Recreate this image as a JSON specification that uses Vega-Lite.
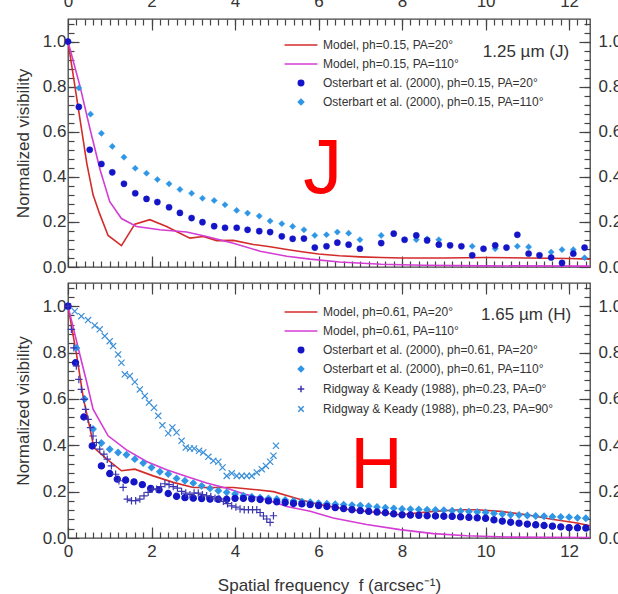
{
  "$schema": "https://vega.github.io/schema/vega-lite/v6.json",
  "autosize": {"type": "none"},
  "padding": {"left": 68, "top": 19, "right": 550, "bottom": 575},
  "background": "white",
  "config": {
    "font": "Liberation Sans",
    "view": {"stroke": "#444", "strokeWidth": 1.3},
    "axis": {"grid": false, "domain": false, "tickColor": "#444", "tickWidth": 1.2, "labelColor": "#333", "labelFontSize": 17, "titleColor": "#333", "titleFontSize": 17, "titleFontWeight": "normal", "labelFlush": false, "labelOverlap": false},
    "legend": {"orient": "none", "labelFontSize": 12, "labelColor": "#333", "labelLimit": 400, "symbolStrokeWidth": 1.5, "symbolSize": 30, "rowPadding": 7, "labelOffset": 16, "title": null, "padding": 0}
  },
  "datasets": {
    "jModel": [
      {"f": 0, "v": 1.0, "s": "Model, ph=0.15, PA=20°"}, {"f": 0.15, "v": 0.82, "s": "Model, ph=0.15, PA=20°"}, {"f": 0.3, "v": 0.64, "s": "Model, ph=0.15, PA=20°"}, {"f": 0.45, "v": 0.46, "s": "Model, ph=0.15, PA=20°"}, {"f": 0.6, "v": 0.32, "s": "Model, ph=0.15, PA=20°"}, {"f": 0.75, "v": 0.24, "s": "Model, ph=0.15, PA=20°"}, {"f": 0.96, "v": 0.14, "s": "Model, ph=0.15, PA=20°"}, {"f": 1.28, "v": 0.095, "s": "Model, ph=0.15, PA=20°"}, {"f": 1.6, "v": 0.19, "s": "Model, ph=0.15, PA=20°"}, {"f": 1.96, "v": 0.21, "s": "Model, ph=0.15, PA=20°"}, {"f": 2.36, "v": 0.18, "s": "Model, ph=0.15, PA=20°"}, {"f": 2.68, "v": 0.15, "s": "Model, ph=0.15, PA=20°"}, {"f": 2.92, "v": 0.128, "s": "Model, ph=0.15, PA=20°"}, {"f": 3.24, "v": 0.135, "s": "Model, ph=0.15, PA=20°"}, {"f": 3.56, "v": 0.117, "s": "Model, ph=0.15, PA=20°"}, {"f": 3.96, "v": 0.118, "s": "Model, ph=0.15, PA=20°"}, {"f": 4.44, "v": 0.1, "s": "Model, ph=0.15, PA=20°"}, {"f": 4.84, "v": 0.09, "s": "Model, ph=0.15, PA=20°"}, {"f": 5.24, "v": 0.078, "s": "Model, ph=0.15, PA=20°"}, {"f": 5.6, "v": 0.068, "s": "Model, ph=0.15, PA=20°"}, {"f": 6.0, "v": 0.058, "s": "Model, ph=0.15, PA=20°"}, {"f": 6.5, "v": 0.05, "s": "Model, ph=0.15, PA=20°"}, {"f": 7.0, "v": 0.045, "s": "Model, ph=0.15, PA=20°"}, {"f": 7.5, "v": 0.042, "s": "Model, ph=0.15, PA=20°"}, {"f": 8.0, "v": 0.04, "s": "Model, ph=0.15, PA=20°"}, {"f": 9.0, "v": 0.04, "s": "Model, ph=0.15, PA=20°"}, {"f": 10.0, "v": 0.042, "s": "Model, ph=0.15, PA=20°"}, {"f": 11.0, "v": 0.04, "s": "Model, ph=0.15, PA=20°"}, {"f": 12.0, "v": 0.038, "s": "Model, ph=0.15, PA=20°"}, {"f": 12.5, "v": 0.035, "s": "Model, ph=0.15, PA=20°"},
      {"f": 0, "v": 1.0, "s": "Model, ph=0.15, PA=110°"}, {"f": 0.29, "v": 0.8, "s": "Model, ph=0.15, PA=110°"}, {"f": 0.53, "v": 0.61, "s": "Model, ph=0.15, PA=110°"}, {"f": 0.77, "v": 0.43, "s": "Model, ph=0.15, PA=110°"}, {"f": 1.0, "v": 0.29, "s": "Model, ph=0.15, PA=110°"}, {"f": 1.28, "v": 0.215, "s": "Model, ph=0.15, PA=110°"}, {"f": 1.64, "v": 0.18, "s": "Model, ph=0.15, PA=110°"}, {"f": 2.2, "v": 0.165, "s": "Model, ph=0.15, PA=110°"}, {"f": 2.84, "v": 0.155, "s": "Model, ph=0.15, PA=110°"}, {"f": 3.32, "v": 0.135, "s": "Model, ph=0.15, PA=110°"}, {"f": 3.96, "v": 0.105, "s": "Model, ph=0.15, PA=110°"}, {"f": 4.6, "v": 0.07, "s": "Model, ph=0.15, PA=110°"}, {"f": 5.24, "v": 0.048, "s": "Model, ph=0.15, PA=110°"}, {"f": 5.8, "v": 0.035, "s": "Model, ph=0.15, PA=110°"}, {"f": 6.5, "v": 0.022, "s": "Model, ph=0.15, PA=110°"}, {"f": 7.5, "v": 0.012, "s": "Model, ph=0.15, PA=110°"}, {"f": 8.5, "v": 0.008, "s": "Model, ph=0.15, PA=110°"}, {"f": 10.0, "v": 0.005, "s": "Model, ph=0.15, PA=110°"}, {"f": 12.5, "v": 0.004, "s": "Model, ph=0.15, PA=110°"}
    ],
    "jObs": [
      {"f": 0, "v": 1.0, "s": "Osterbart et al. (2000), ph=0.15, PA=110°"}, {"f": 0.26, "v": 0.794, "s": "Osterbart et al. (2000), ph=0.15, PA=110°"}, {"f": 0.54, "v": 0.678, "s": "Osterbart et al. (2000), ph=0.15, PA=110°"}, {"f": 0.8, "v": 0.593, "s": "Osterbart et al. (2000), ph=0.15, PA=110°"}, {"f": 1.06, "v": 0.535, "s": "Osterbart et al. (2000), ph=0.15, PA=110°"}, {"f": 1.34, "v": 0.487, "s": "Osterbart et al. (2000), ph=0.15, PA=110°"}, {"f": 1.61, "v": 0.438, "s": "Osterbart et al. (2000), ph=0.15, PA=110°"}, {"f": 1.88, "v": 0.416, "s": "Osterbart et al. (2000), ph=0.15, PA=110°"}, {"f": 2.14, "v": 0.388, "s": "Osterbart et al. (2000), ph=0.15, PA=110°"}, {"f": 2.42, "v": 0.369, "s": "Osterbart et al. (2000), ph=0.15, PA=110°"}, {"f": 2.68, "v": 0.344, "s": "Osterbart et al. (2000), ph=0.15, PA=110°"}, {"f": 2.96, "v": 0.327, "s": "Osterbart et al. (2000), ph=0.15, PA=110°"}, {"f": 3.22, "v": 0.305, "s": "Osterbart et al. (2000), ph=0.15, PA=110°"}, {"f": 3.5, "v": 0.295, "s": "Osterbart et al. (2000), ph=0.15, PA=110°"}, {"f": 3.76, "v": 0.276, "s": "Osterbart et al. (2000), ph=0.15, PA=110°"}, {"f": 4.04, "v": 0.251, "s": "Osterbart et al. (2000), ph=0.15, PA=110°"}, {"f": 4.3, "v": 0.239, "s": "Osterbart et al. (2000), ph=0.15, PA=110°"}, {"f": 4.58, "v": 0.226, "s": "Osterbart et al. (2000), ph=0.15, PA=110°"}, {"f": 4.84, "v": 0.204, "s": "Osterbart et al. (2000), ph=0.15, PA=110°"}, {"f": 5.12, "v": 0.192, "s": "Osterbart et al. (2000), ph=0.15, PA=110°"}, {"f": 5.38, "v": 0.18, "s": "Osterbart et al. (2000), ph=0.15, PA=110°"}, {"f": 5.65, "v": 0.165, "s": "Osterbart et al. (2000), ph=0.15, PA=110°"}, {"f": 5.91, "v": 0.14, "s": "Osterbart et al. (2000), ph=0.15, PA=110°"}, {"f": 6.19, "v": 0.143, "s": "Osterbart et al. (2000), ph=0.15, PA=110°"}, {"f": 6.45, "v": 0.155, "s": "Osterbart et al. (2000), ph=0.15, PA=110°"}, {"f": 6.72, "v": 0.15, "s": "Osterbart et al. (2000), ph=0.15, PA=110°"}, {"f": 6.99, "v": 0.121, "s": "Osterbart et al. (2000), ph=0.15, PA=110°"}, {"f": 7.5, "v": 0.14, "s": "Osterbart et al. (2000), ph=0.15, PA=110°"}, {"f": 8.34, "v": 0.121, "s": "Osterbart et al. (2000), ph=0.15, PA=110°"}, {"f": 8.6, "v": 0.125, "s": "Osterbart et al. (2000), ph=0.15, PA=110°"}, {"f": 8.88, "v": 0.121, "s": "Osterbart et al. (2000), ph=0.15, PA=110°"}, {"f": 9.68, "v": 0.092, "s": "Osterbart et al. (2000), ph=0.15, PA=110°"}, {"f": 10.23, "v": 0.081, "s": "Osterbart et al. (2000), ph=0.15, PA=110°"}, {"f": 10.76, "v": 0.092, "s": "Osterbart et al. (2000), ph=0.15, PA=110°"}, {"f": 11.03, "v": 0.089, "s": "Osterbart et al. (2000), ph=0.15, PA=110°"}, {"f": 11.57, "v": 0.066, "s": "Osterbart et al. (2000), ph=0.15, PA=110°"}, {"f": 11.83, "v": 0.077, "s": "Osterbart et al. (2000), ph=0.15, PA=110°"}, {"f": 12.1, "v": 0.077, "s": "Osterbart et al. (2000), ph=0.15, PA=110°"}, {"f": 12.37, "v": 0.041, "s": "Osterbart et al. (2000), ph=0.15, PA=110°"},
      {"f": 0, "v": 1.0, "s": "Osterbart et al. (2000), ph=0.15, PA=20°"}, {"f": 0.26, "v": 0.71, "s": "Osterbart et al. (2000), ph=0.15, PA=20°"}, {"f": 0.52, "v": 0.52, "s": "Osterbart et al. (2000), ph=0.15, PA=20°"}, {"f": 0.8, "v": 0.457, "s": "Osterbart et al. (2000), ph=0.15, PA=20°"}, {"f": 1.06, "v": 0.42, "s": "Osterbart et al. (2000), ph=0.15, PA=20°"}, {"f": 1.34, "v": 0.369, "s": "Osterbart et al. (2000), ph=0.15, PA=20°"}, {"f": 1.61, "v": 0.327, "s": "Osterbart et al. (2000), ph=0.15, PA=20°"}, {"f": 1.88, "v": 0.302, "s": "Osterbart et al. (2000), ph=0.15, PA=20°"}, {"f": 2.14, "v": 0.288, "s": "Osterbart et al. (2000), ph=0.15, PA=20°"}, {"f": 2.42, "v": 0.265, "s": "Osterbart et al. (2000), ph=0.15, PA=20°"}, {"f": 2.68, "v": 0.24, "s": "Osterbart et al. (2000), ph=0.15, PA=20°"}, {"f": 2.96, "v": 0.217, "s": "Osterbart et al. (2000), ph=0.15, PA=20°"}, {"f": 3.22, "v": 0.199, "s": "Osterbart et al. (2000), ph=0.15, PA=20°"}, {"f": 3.5, "v": 0.181, "s": "Osterbart et al. (2000), ph=0.15, PA=20°"}, {"f": 3.76, "v": 0.174, "s": "Osterbart et al. (2000), ph=0.15, PA=20°"}, {"f": 4.04, "v": 0.174, "s": "Osterbart et al. (2000), ph=0.15, PA=20°"}, {"f": 4.3, "v": 0.165, "s": "Osterbart et al. (2000), ph=0.15, PA=20°"}, {"f": 4.58, "v": 0.159, "s": "Osterbart et al. (2000), ph=0.15, PA=20°"}, {"f": 4.84, "v": 0.155, "s": "Osterbart et al. (2000), ph=0.15, PA=20°"}, {"f": 5.12, "v": 0.136, "s": "Osterbart et al. (2000), ph=0.15, PA=20°"}, {"f": 5.38, "v": 0.125, "s": "Osterbart et al. (2000), ph=0.15, PA=20°"}, {"f": 5.65, "v": 0.126, "s": "Osterbart et al. (2000), ph=0.15, PA=20°"}, {"f": 5.91, "v": 0.086, "s": "Osterbart et al. (2000), ph=0.15, PA=20°"}, {"f": 6.19, "v": 0.092, "s": "Osterbart et al. (2000), ph=0.15, PA=20°"}, {"f": 6.45, "v": 0.108, "s": "Osterbart et al. (2000), ph=0.15, PA=20°"}, {"f": 6.72, "v": 0.099, "s": "Osterbart et al. (2000), ph=0.15, PA=20°"}, {"f": 6.99, "v": 0.081, "s": "Osterbart et al. (2000), ph=0.15, PA=20°"}, {"f": 7.5, "v": 0.106, "s": "Osterbart et al. (2000), ph=0.15, PA=20°"}, {"f": 7.8, "v": 0.148, "s": "Osterbart et al. (2000), ph=0.15, PA=20°"}, {"f": 8.06, "v": 0.121, "s": "Osterbart et al. (2000), ph=0.15, PA=20°"}, {"f": 8.34, "v": 0.14, "s": "Osterbart et al. (2000), ph=0.15, PA=20°"}, {"f": 8.6, "v": 0.118, "s": "Osterbart et al. (2000), ph=0.15, PA=20°"}, {"f": 8.88, "v": 0.099, "s": "Osterbart et al. (2000), ph=0.15, PA=20°"}, {"f": 9.15, "v": 0.096, "s": "Osterbart et al. (2000), ph=0.15, PA=20°"}, {"f": 9.42, "v": 0.092, "s": "Osterbart et al. (2000), ph=0.15, PA=20°"}, {"f": 9.68, "v": 0.052, "s": "Osterbart et al. (2000), ph=0.15, PA=20°"}, {"f": 9.95, "v": 0.081, "s": "Osterbart et al. (2000), ph=0.15, PA=20°"}, {"f": 10.23, "v": 0.096, "s": "Osterbart et al. (2000), ph=0.15, PA=20°"}, {"f": 10.5, "v": 0.086, "s": "Osterbart et al. (2000), ph=0.15, PA=20°"}, {"f": 10.76, "v": 0.143, "s": "Osterbart et al. (2000), ph=0.15, PA=20°"}, {"f": 11.03, "v": 0.059, "s": "Osterbart et al. (2000), ph=0.15, PA=20°"}, {"f": 11.29, "v": 0.052, "s": "Osterbart et al. (2000), ph=0.15, PA=20°"}, {"f": 11.57, "v": 0.042, "s": "Osterbart et al. (2000), ph=0.15, PA=20°"}, {"f": 11.83, "v": 0.018, "s": "Osterbart et al. (2000), ph=0.15, PA=20°"}, {"f": 12.1, "v": 0.059, "s": "Osterbart et al. (2000), ph=0.15, PA=20°"}, {"f": 12.37, "v": 0.086, "s": "Osterbart et al. (2000), ph=0.15, PA=20°"}
    ],
    "hModel": [
      {"f": 0, "v": 1.0, "s": "Model, ph=0.61, PA=20°"}, {"f": 0.21, "v": 0.786, "s": "Model, ph=0.61, PA=20°"}, {"f": 0.37, "v": 0.6, "s": "Model, ph=0.61, PA=20°"}, {"f": 0.53, "v": 0.47, "s": "Model, ph=0.61, PA=20°"}, {"f": 0.62, "v": 0.39, "s": "Model, ph=0.61, PA=20°"}, {"f": 0.93, "v": 0.34, "s": "Model, ph=0.61, PA=20°"}, {"f": 1.28, "v": 0.29, "s": "Model, ph=0.61, PA=20°"}, {"f": 1.6, "v": 0.297, "s": "Model, ph=0.61, PA=20°"}, {"f": 2.04, "v": 0.268, "s": "Model, ph=0.61, PA=20°"}, {"f": 2.52, "v": 0.24, "s": "Model, ph=0.61, PA=20°"}, {"f": 3.0, "v": 0.218, "s": "Model, ph=0.61, PA=20°"}, {"f": 3.48, "v": 0.218, "s": "Model, ph=0.61, PA=20°"}, {"f": 3.96, "v": 0.218, "s": "Model, ph=0.61, PA=20°"}, {"f": 4.52, "v": 0.208, "s": "Model, ph=0.61, PA=20°"}, {"f": 4.92, "v": 0.2, "s": "Model, ph=0.61, PA=20°"}, {"f": 5.4, "v": 0.175, "s": "Model, ph=0.61, PA=20°"}, {"f": 5.8, "v": 0.154, "s": "Model, ph=0.61, PA=20°"}, {"f": 6.03, "v": 0.144, "s": "Model, ph=0.61, PA=20°"}, {"f": 6.75, "v": 0.122, "s": "Model, ph=0.61, PA=20°"}, {"f": 7.95, "v": 0.1, "s": "Model, ph=0.61, PA=20°"}, {"f": 8.75, "v": 0.115, "s": "Model, ph=0.61, PA=20°"}, {"f": 9.39, "v": 0.122, "s": "Model, ph=0.61, PA=20°"}, {"f": 9.79, "v": 0.122, "s": "Model, ph=0.61, PA=20°"}, {"f": 10.35, "v": 0.115, "s": "Model, ph=0.61, PA=20°"}, {"f": 10.99, "v": 0.1, "s": "Model, ph=0.61, PA=20°"}, {"f": 11.55, "v": 0.082, "s": "Model, ph=0.61, PA=20°"}, {"f": 12.19, "v": 0.065, "s": "Model, ph=0.61, PA=20°"}, {"f": 12.5, "v": 0.053, "s": "Model, ph=0.61, PA=20°"},
      {"f": 0, "v": 1.0, "s": "Model, ph=0.61, PA=110°"}, {"f": 0.29, "v": 0.786, "s": "Model, ph=0.61, PA=110°"}, {"f": 0.45, "v": 0.671, "s": "Model, ph=0.61, PA=110°"}, {"f": 0.6, "v": 0.556, "s": "Model, ph=0.61, PA=110°"}, {"f": 0.96, "v": 0.441, "s": "Model, ph=0.61, PA=110°"}, {"f": 1.4, "v": 0.38, "s": "Model, ph=0.61, PA=110°"}, {"f": 1.88, "v": 0.33, "s": "Model, ph=0.61, PA=110°"}, {"f": 2.36, "v": 0.294, "s": "Model, ph=0.61, PA=110°"}, {"f": 2.84, "v": 0.265, "s": "Model, ph=0.61, PA=110°"}, {"f": 3.32, "v": 0.237, "s": "Model, ph=0.61, PA=110°"}, {"f": 3.8, "v": 0.215, "s": "Model, ph=0.61, PA=110°"}, {"f": 4.28, "v": 0.187, "s": "Model, ph=0.61, PA=110°"}, {"f": 4.76, "v": 0.165, "s": "Model, ph=0.61, PA=110°"}, {"f": 5.24, "v": 0.136, "s": "Model, ph=0.61, PA=110°"}, {"f": 5.8, "v": 0.115, "s": "Model, ph=0.61, PA=110°"}, {"f": 6.35, "v": 0.086, "s": "Model, ph=0.61, PA=110°"}, {"f": 7.15, "v": 0.058, "s": "Model, ph=0.61, PA=110°"}, {"f": 7.95, "v": 0.036, "s": "Model, ph=0.61, PA=110°"}, {"f": 8.75, "v": 0.019, "s": "Model, ph=0.61, PA=110°"}, {"f": 9.55, "v": 0.01, "s": "Model, ph=0.61, PA=110°"}, {"f": 10.5, "v": 0.004, "s": "Model, ph=0.61, PA=110°"}, {"f": 12.5, "v": 0.002, "s": "Model, ph=0.61, PA=110°"}
    ],
    "hObs": [
      {"f": 0, "v": 1.0, "s": "Ridgway & Keady (1988), ph=0.23, PA=90°"}, {"f": 0.16, "v": 0.978, "s": "Ridgway & Keady (1988), ph=0.23, PA=90°"}, {"f": 0.32, "v": 0.957, "s": "Ridgway & Keady (1988), ph=0.23, PA=90°"}, {"f": 0.48, "v": 0.94, "s": "Ridgway & Keady (1988), ph=0.23, PA=90°"}, {"f": 0.64, "v": 0.917, "s": "Ridgway & Keady (1988), ph=0.23, PA=90°"}, {"f": 0.76, "v": 0.9, "s": "Ridgway & Keady (1988), ph=0.23, PA=90°"}, {"f": 0.88, "v": 0.871, "s": "Ridgway & Keady (1988), ph=0.23, PA=90°"}, {"f": 1.0, "v": 0.849, "s": "Ridgway & Keady (1988), ph=0.23, PA=90°"}, {"f": 1.08, "v": 0.828, "s": "Ridgway & Keady (1988), ph=0.23, PA=90°"}, {"f": 1.2, "v": 0.792, "s": "Ridgway & Keady (1988), ph=0.23, PA=90°"}, {"f": 1.28, "v": 0.756, "s": "Ridgway & Keady (1988), ph=0.23, PA=90°"}, {"f": 1.36, "v": 0.706, "s": "Ridgway & Keady (1988), ph=0.23, PA=90°"}, {"f": 1.48, "v": 0.699, "s": "Ridgway & Keady (1988), ph=0.23, PA=90°"}, {"f": 1.6, "v": 0.673, "s": "Ridgway & Keady (1988), ph=0.23, PA=90°"}, {"f": 1.72, "v": 0.641, "s": "Ridgway & Keady (1988), ph=0.23, PA=90°"}, {"f": 1.84, "v": 0.613, "s": "Ridgway & Keady (1988), ph=0.23, PA=90°"}, {"f": 1.94, "v": 0.584, "s": "Ridgway & Keady (1988), ph=0.23, PA=90°"}, {"f": 2.06, "v": 0.562, "s": "Ridgway & Keady (1988), ph=0.23, PA=90°"}, {"f": 2.16, "v": 0.527, "s": "Ridgway & Keady (1988), ph=0.23, PA=90°"}, {"f": 2.26, "v": 0.486, "s": "Ridgway & Keady (1988), ph=0.23, PA=90°"}, {"f": 2.4, "v": 0.452, "s": "Ridgway & Keady (1988), ph=0.23, PA=90°"}, {"f": 2.5, "v": 0.477, "s": "Ridgway & Keady (1988), ph=0.23, PA=90°"}, {"f": 2.6, "v": 0.455, "s": "Ridgway & Keady (1988), ph=0.23, PA=90°"}, {"f": 2.72, "v": 0.419, "s": "Ridgway & Keady (1988), ph=0.23, PA=90°"}, {"f": 2.82, "v": 0.39, "s": "Ridgway & Keady (1988), ph=0.23, PA=90°"}, {"f": 2.92, "v": 0.386, "s": "Ridgway & Keady (1988), ph=0.23, PA=90°"}, {"f": 3.02, "v": 0.386, "s": "Ridgway & Keady (1988), ph=0.23, PA=90°"}, {"f": 3.14, "v": 0.376, "s": "Ridgway & Keady (1988), ph=0.23, PA=90°"}, {"f": 3.24, "v": 0.369, "s": "Ridgway & Keady (1988), ph=0.23, PA=90°"}, {"f": 3.36, "v": 0.35, "s": "Ridgway & Keady (1988), ph=0.23, PA=90°"}, {"f": 3.48, "v": 0.333, "s": "Ridgway & Keady (1988), ph=0.23, PA=90°"}, {"f": 3.6, "v": 0.329, "s": "Ridgway & Keady (1988), ph=0.23, PA=90°"}, {"f": 3.7, "v": 0.304, "s": "Ridgway & Keady (1988), ph=0.23, PA=90°"}, {"f": 3.8, "v": 0.268, "s": "Ridgway & Keady (1988), ph=0.23, PA=90°"}, {"f": 3.92, "v": 0.279, "s": "Ridgway & Keady (1988), ph=0.23, PA=90°"}, {"f": 4.04, "v": 0.268, "s": "Ridgway & Keady (1988), ph=0.23, PA=90°"}, {"f": 4.16, "v": 0.268, "s": "Ridgway & Keady (1988), ph=0.23, PA=90°"}, {"f": 4.28, "v": 0.268, "s": "Ridgway & Keady (1988), ph=0.23, PA=90°"}, {"f": 4.4, "v": 0.268, "s": "Ridgway & Keady (1988), ph=0.23, PA=90°"}, {"f": 4.52, "v": 0.283, "s": "Ridgway & Keady (1988), ph=0.23, PA=90°"}, {"f": 4.64, "v": 0.297, "s": "Ridgway & Keady (1988), ph=0.23, PA=90°"}, {"f": 4.74, "v": 0.311, "s": "Ridgway & Keady (1988), ph=0.23, PA=90°"}, {"f": 4.84, "v": 0.329, "s": "Ridgway & Keady (1988), ph=0.23, PA=90°"}, {"f": 4.92, "v": 0.355, "s": "Ridgway & Keady (1988), ph=0.23, PA=90°"}, {"f": 4.98, "v": 0.398, "s": "Ridgway & Keady (1988), ph=0.23, PA=90°"},
      {"f": 0, "v": 1.0, "s": "Osterbart et al. (2000), ph=0.61, PA=110°"}, {"f": 0.2, "v": 0.82, "s": "Osterbart et al. (2000), ph=0.61, PA=110°"}, {"f": 0.4, "v": 0.6, "s": "Osterbart et al. (2000), ph=0.61, PA=110°"}, {"f": 0.6, "v": 0.47, "s": "Osterbart et al. (2000), ph=0.61, PA=110°"}, {"f": 0.8, "v": 0.41, "s": "Osterbart et al. (2000), ph=0.61, PA=110°"}, {"f": 1.0, "v": 0.383, "s": "Osterbart et al. (2000), ph=0.61, PA=110°"}, {"f": 1.2, "v": 0.369, "s": "Osterbart et al. (2000), ph=0.61, PA=110°"}, {"f": 1.4, "v": 0.359, "s": "Osterbart et al. (2000), ph=0.61, PA=110°"}, {"f": 1.6, "v": 0.34, "s": "Osterbart et al. (2000), ph=0.61, PA=110°"}, {"f": 1.8, "v": 0.323, "s": "Osterbart et al. (2000), ph=0.61, PA=110°"}, {"f": 2.0, "v": 0.304, "s": "Osterbart et al. (2000), ph=0.61, PA=110°"}, {"f": 2.2, "v": 0.286, "s": "Osterbart et al. (2000), ph=0.61, PA=110°"}, {"f": 2.4, "v": 0.276, "s": "Osterbart et al. (2000), ph=0.61, PA=110°"}, {"f": 2.6, "v": 0.257, "s": "Osterbart et al. (2000), ph=0.61, PA=110°"}, {"f": 2.8, "v": 0.247, "s": "Osterbart et al. (2000), ph=0.61, PA=110°"}, {"f": 3.0, "v": 0.237, "s": "Osterbart et al. (2000), ph=0.61, PA=110°"}, {"f": 3.2, "v": 0.225, "s": "Osterbart et al. (2000), ph=0.61, PA=110°"}, {"f": 3.4, "v": 0.214, "s": "Osterbart et al. (2000), ph=0.61, PA=110°"}, {"f": 3.6, "v": 0.204, "s": "Osterbart et al. (2000), ph=0.61, PA=110°"}, {"f": 3.8, "v": 0.197, "s": "Osterbart et al. (2000), ph=0.61, PA=110°"}, {"f": 4.0, "v": 0.19, "s": "Osterbart et al. (2000), ph=0.61, PA=110°"}, {"f": 4.2, "v": 0.183, "s": "Osterbart et al. (2000), ph=0.61, PA=110°"}, {"f": 4.4, "v": 0.178, "s": "Osterbart et al. (2000), ph=0.61, PA=110°"}, {"f": 4.6, "v": 0.174, "s": "Osterbart et al. (2000), ph=0.61, PA=110°"}, {"f": 4.8, "v": 0.171, "s": "Osterbart et al. (2000), ph=0.61, PA=110°"}, {"f": 5.0, "v": 0.168, "s": "Osterbart et al. (2000), ph=0.61, PA=110°"}, {"f": 5.2, "v": 0.164, "s": "Osterbart et al. (2000), ph=0.61, PA=110°"}, {"f": 5.4, "v": 0.16, "s": "Osterbart et al. (2000), ph=0.61, PA=110°"}, {"f": 5.6, "v": 0.157, "s": "Osterbart et al. (2000), ph=0.61, PA=110°"}, {"f": 5.8, "v": 0.154, "s": "Osterbart et al. (2000), ph=0.61, PA=110°"}, {"f": 6.0, "v": 0.15, "s": "Osterbart et al. (2000), ph=0.61, PA=110°"}, {"f": 6.2, "v": 0.148, "s": "Osterbart et al. (2000), ph=0.61, PA=110°"}, {"f": 6.4, "v": 0.146, "s": "Osterbart et al. (2000), ph=0.61, PA=110°"}, {"f": 6.6, "v": 0.144, "s": "Osterbart et al. (2000), ph=0.61, PA=110°"}, {"f": 6.8, "v": 0.142, "s": "Osterbart et al. (2000), ph=0.61, PA=110°"}, {"f": 7.0, "v": 0.14, "s": "Osterbart et al. (2000), ph=0.61, PA=110°"}, {"f": 7.2, "v": 0.137, "s": "Osterbart et al. (2000), ph=0.61, PA=110°"}, {"f": 7.4, "v": 0.134, "s": "Osterbart et al. (2000), ph=0.61, PA=110°"}, {"f": 7.6, "v": 0.131, "s": "Osterbart et al. (2000), ph=0.61, PA=110°"}, {"f": 7.8, "v": 0.128, "s": "Osterbart et al. (2000), ph=0.61, PA=110°"}, {"f": 8.0, "v": 0.125, "s": "Osterbart et al. (2000), ph=0.61, PA=110°"}, {"f": 8.2, "v": 0.124, "s": "Osterbart et al. (2000), ph=0.61, PA=110°"}, {"f": 8.4, "v": 0.123, "s": "Osterbart et al. (2000), ph=0.61, PA=110°"}, {"f": 8.6, "v": 0.122, "s": "Osterbart et al. (2000), ph=0.61, PA=110°"}, {"f": 8.8, "v": 0.121, "s": "Osterbart et al. (2000), ph=0.61, PA=110°"}, {"f": 9.0, "v": 0.12, "s": "Osterbart et al. (2000), ph=0.61, PA=110°"}, {"f": 9.2, "v": 0.118, "s": "Osterbart et al. (2000), ph=0.61, PA=110°"}, {"f": 9.4, "v": 0.116, "s": "Osterbart et al. (2000), ph=0.61, PA=110°"}, {"f": 9.6, "v": 0.114, "s": "Osterbart et al. (2000), ph=0.61, PA=110°"}, {"f": 9.8, "v": 0.112, "s": "Osterbart et al. (2000), ph=0.61, PA=110°"}, {"f": 10.0, "v": 0.11, "s": "Osterbart et al. (2000), ph=0.61, PA=110°"}, {"f": 10.2, "v": 0.106, "s": "Osterbart et al. (2000), ph=0.61, PA=110°"}, {"f": 10.4, "v": 0.103, "s": "Osterbart et al. (2000), ph=0.61, PA=110°"}, {"f": 10.6, "v": 0.1, "s": "Osterbart et al. (2000), ph=0.61, PA=110°"}, {"f": 10.8, "v": 0.099, "s": "Osterbart et al. (2000), ph=0.61, PA=110°"}, {"f": 11.0, "v": 0.097, "s": "Osterbart et al. (2000), ph=0.61, PA=110°"}, {"f": 11.2, "v": 0.095, "s": "Osterbart et al. (2000), ph=0.61, PA=110°"}, {"f": 11.4, "v": 0.094, "s": "Osterbart et al. (2000), ph=0.61, PA=110°"}, {"f": 11.6, "v": 0.092, "s": "Osterbart et al. (2000), ph=0.61, PA=110°"}, {"f": 11.8, "v": 0.091, "s": "Osterbart et al. (2000), ph=0.61, PA=110°"}, {"f": 12.0, "v": 0.09, "s": "Osterbart et al. (2000), ph=0.61, PA=110°"}, {"f": 12.2, "v": 0.087, "s": "Osterbart et al. (2000), ph=0.61, PA=110°"}, {"f": 12.4, "v": 0.085, "s": "Osterbart et al. (2000), ph=0.61, PA=110°"},
      {"f": 0, "v": 1.0, "s": "Osterbart et al. (2000), ph=0.61, PA=20°"}, {"f": 0.18, "v": 0.756, "s": "Osterbart et al. (2000), ph=0.61, PA=20°"}, {"f": 0.38, "v": 0.522, "s": "Osterbart et al. (2000), ph=0.61, PA=20°"}, {"f": 0.58, "v": 0.397, "s": "Osterbart et al. (2000), ph=0.61, PA=20°"}, {"f": 0.8, "v": 0.311, "s": "Osterbart et al. (2000), ph=0.61, PA=20°"}, {"f": 1.0, "v": 0.278, "s": "Osterbart et al. (2000), ph=0.61, PA=20°"}, {"f": 1.18, "v": 0.254, "s": "Osterbart et al. (2000), ph=0.61, PA=20°"}, {"f": 1.38, "v": 0.25, "s": "Osterbart et al. (2000), ph=0.61, PA=20°"}, {"f": 1.58, "v": 0.242, "s": "Osterbart et al. (2000), ph=0.61, PA=20°"}, {"f": 1.78, "v": 0.23, "s": "Osterbart et al. (2000), ph=0.61, PA=20°"}, {"f": 1.98, "v": 0.214, "s": "Osterbart et al. (2000), ph=0.61, PA=20°"}, {"f": 2.18, "v": 0.208, "s": "Osterbart et al. (2000), ph=0.61, PA=20°"}, {"f": 2.4, "v": 0.192, "s": "Osterbart et al. (2000), ph=0.61, PA=20°"}, {"f": 2.6, "v": 0.18, "s": "Osterbart et al. (2000), ph=0.61, PA=20°"}, {"f": 2.8, "v": 0.174, "s": "Osterbart et al. (2000), ph=0.61, PA=20°"}, {"f": 3.0, "v": 0.172, "s": "Osterbart et al. (2000), ph=0.61, PA=20°"}, {"f": 3.2, "v": 0.17, "s": "Osterbart et al. (2000), ph=0.61, PA=20°"}, {"f": 3.4, "v": 0.168, "s": "Osterbart et al. (2000), ph=0.61, PA=20°"}, {"f": 3.6, "v": 0.167, "s": "Osterbart et al. (2000), ph=0.61, PA=20°"}, {"f": 3.8, "v": 0.167, "s": "Osterbart et al. (2000), ph=0.61, PA=20°"}, {"f": 4.0, "v": 0.171, "s": "Osterbart et al. (2000), ph=0.61, PA=20°"}, {"f": 4.2, "v": 0.171, "s": "Osterbart et al. (2000), ph=0.61, PA=20°"}, {"f": 4.4, "v": 0.169, "s": "Osterbart et al. (2000), ph=0.61, PA=20°"}, {"f": 4.6, "v": 0.166, "s": "Osterbart et al. (2000), ph=0.61, PA=20°"}, {"f": 4.8, "v": 0.16, "s": "Osterbart et al. (2000), ph=0.61, PA=20°"}, {"f": 5.0, "v": 0.156, "s": "Osterbart et al. (2000), ph=0.61, PA=20°"}, {"f": 5.2, "v": 0.153, "s": "Osterbart et al. (2000), ph=0.61, PA=20°"}, {"f": 5.4, "v": 0.149, "s": "Osterbart et al. (2000), ph=0.61, PA=20°"}, {"f": 5.6, "v": 0.147, "s": "Osterbart et al. (2000), ph=0.61, PA=20°"}, {"f": 5.8, "v": 0.144, "s": "Osterbart et al. (2000), ph=0.61, PA=20°"}, {"f": 6.0, "v": 0.14, "s": "Osterbart et al. (2000), ph=0.61, PA=20°"}, {"f": 6.2, "v": 0.136, "s": "Osterbart et al. (2000), ph=0.61, PA=20°"}, {"f": 6.4, "v": 0.131, "s": "Osterbart et al. (2000), ph=0.61, PA=20°"}, {"f": 6.6, "v": 0.127, "s": "Osterbart et al. (2000), ph=0.61, PA=20°"}, {"f": 6.8, "v": 0.122, "s": "Osterbart et al. (2000), ph=0.61, PA=20°"}, {"f": 7.0, "v": 0.118, "s": "Osterbart et al. (2000), ph=0.61, PA=20°"}, {"f": 7.2, "v": 0.115, "s": "Osterbart et al. (2000), ph=0.61, PA=20°"}, {"f": 7.4, "v": 0.112, "s": "Osterbart et al. (2000), ph=0.61, PA=20°"}, {"f": 7.6, "v": 0.109, "s": "Osterbart et al. (2000), ph=0.61, PA=20°"}, {"f": 7.8, "v": 0.104, "s": "Osterbart et al. (2000), ph=0.61, PA=20°"}, {"f": 8.0, "v": 0.1, "s": "Osterbart et al. (2000), ph=0.61, PA=20°"}, {"f": 8.2, "v": 0.099, "s": "Osterbart et al. (2000), ph=0.61, PA=20°"}, {"f": 8.4, "v": 0.098, "s": "Osterbart et al. (2000), ph=0.61, PA=20°"}, {"f": 8.6, "v": 0.096, "s": "Osterbart et al. (2000), ph=0.61, PA=20°"}, {"f": 8.8, "v": 0.095, "s": "Osterbart et al. (2000), ph=0.61, PA=20°"}, {"f": 9.0, "v": 0.094, "s": "Osterbart et al. (2000), ph=0.61, PA=20°"}, {"f": 9.2, "v": 0.093, "s": "Osterbart et al. (2000), ph=0.61, PA=20°"}, {"f": 9.4, "v": 0.091, "s": "Osterbart et al. (2000), ph=0.61, PA=20°"}, {"f": 9.6, "v": 0.089, "s": "Osterbart et al. (2000), ph=0.61, PA=20°"}, {"f": 9.8, "v": 0.087, "s": "Osterbart et al. (2000), ph=0.61, PA=20°"}, {"f": 10.0, "v": 0.085, "s": "Osterbart et al. (2000), ph=0.61, PA=20°"}, {"f": 10.2, "v": 0.078, "s": "Osterbart et al. (2000), ph=0.61, PA=20°"}, {"f": 10.4, "v": 0.073, "s": "Osterbart et al. (2000), ph=0.61, PA=20°"}, {"f": 10.6, "v": 0.068, "s": "Osterbart et al. (2000), ph=0.61, PA=20°"}, {"f": 10.8, "v": 0.064, "s": "Osterbart et al. (2000), ph=0.61, PA=20°"}, {"f": 11.0, "v": 0.06, "s": "Osterbart et al. (2000), ph=0.61, PA=20°"}, {"f": 11.2, "v": 0.057, "s": "Osterbart et al. (2000), ph=0.61, PA=20°"}, {"f": 11.4, "v": 0.054, "s": "Osterbart et al. (2000), ph=0.61, PA=20°"}, {"f": 11.6, "v": 0.051, "s": "Osterbart et al. (2000), ph=0.61, PA=20°"}, {"f": 11.8, "v": 0.048, "s": "Osterbart et al. (2000), ph=0.61, PA=20°"}, {"f": 12.0, "v": 0.045, "s": "Osterbart et al. (2000), ph=0.61, PA=20°"}, {"f": 12.2, "v": 0.044, "s": "Osterbart et al. (2000), ph=0.61, PA=20°"}, {"f": 12.4, "v": 0.043, "s": "Osterbart et al. (2000), ph=0.61, PA=20°"},
      {"f": 0, "v": 1.0, "s": "Ridgway & Keady (1988), ph=0.23, PA=0°"}, {"f": 0.08, "v": 0.9, "s": "Ridgway & Keady (1988), ph=0.23, PA=0°"}, {"f": 0.14, "v": 0.82, "s": "Ridgway & Keady (1988), ph=0.23, PA=0°"}, {"f": 0.2, "v": 0.742, "s": "Ridgway & Keady (1988), ph=0.23, PA=0°"}, {"f": 0.26, "v": 0.684, "s": "Ridgway & Keady (1988), ph=0.23, PA=0°"}, {"f": 0.32, "v": 0.641, "s": "Ridgway & Keady (1988), ph=0.23, PA=0°"}, {"f": 0.38, "v": 0.598, "s": "Ridgway & Keady (1988), ph=0.23, PA=0°"}, {"f": 0.42, "v": 0.555, "s": "Ridgway & Keady (1988), ph=0.23, PA=0°"}, {"f": 0.48, "v": 0.512, "s": "Ridgway & Keady (1988), ph=0.23, PA=0°"}, {"f": 0.54, "v": 0.476, "s": "Ridgway & Keady (1988), ph=0.23, PA=0°"}, {"f": 0.6, "v": 0.44, "s": "Ridgway & Keady (1988), ph=0.23, PA=0°"}, {"f": 0.68, "v": 0.412, "s": "Ridgway & Keady (1988), ph=0.23, PA=0°"}, {"f": 0.76, "v": 0.383, "s": "Ridgway & Keady (1988), ph=0.23, PA=0°"}, {"f": 0.86, "v": 0.362, "s": "Ridgway & Keady (1988), ph=0.23, PA=0°"}, {"f": 0.94, "v": 0.34, "s": "Ridgway & Keady (1988), ph=0.23, PA=0°"}, {"f": 1.04, "v": 0.311, "s": "Ridgway & Keady (1988), ph=0.23, PA=0°"}, {"f": 1.14, "v": 0.275, "s": "Ridgway & Keady (1988), ph=0.23, PA=0°"}, {"f": 1.22, "v": 0.247, "s": "Ridgway & Keady (1988), ph=0.23, PA=0°"}, {"f": 1.32, "v": 0.218, "s": "Ridgway & Keady (1988), ph=0.23, PA=0°"}, {"f": 1.42, "v": 0.168, "s": "Ridgway & Keady (1988), ph=0.23, PA=0°"}, {"f": 1.52, "v": 0.161, "s": "Ridgway & Keady (1988), ph=0.23, PA=0°"}, {"f": 1.62, "v": 0.161, "s": "Ridgway & Keady (1988), ph=0.23, PA=0°"}, {"f": 1.72, "v": 0.168, "s": "Ridgway & Keady (1988), ph=0.23, PA=0°"}, {"f": 1.82, "v": 0.182, "s": "Ridgway & Keady (1988), ph=0.23, PA=0°"}, {"f": 1.92, "v": 0.197, "s": "Ridgway & Keady (1988), ph=0.23, PA=0°"}, {"f": 2.02, "v": 0.211, "s": "Ridgway & Keady (1988), ph=0.23, PA=0°"}, {"f": 2.12, "v": 0.211, "s": "Ridgway & Keady (1988), ph=0.23, PA=0°"}, {"f": 2.22, "v": 0.222, "s": "Ridgway & Keady (1988), ph=0.23, PA=0°"}, {"f": 2.32, "v": 0.234, "s": "Ridgway & Keady (1988), ph=0.23, PA=0°"}, {"f": 2.42, "v": 0.23, "s": "Ridgway & Keady (1988), ph=0.23, PA=0°"}, {"f": 2.52, "v": 0.222, "s": "Ridgway & Keady (1988), ph=0.23, PA=0°"}, {"f": 2.62, "v": 0.215, "s": "Ridgway & Keady (1988), ph=0.23, PA=0°"}, {"f": 2.72, "v": 0.201, "s": "Ridgway & Keady (1988), ph=0.23, PA=0°"}, {"f": 2.82, "v": 0.194, "s": "Ridgway & Keady (1988), ph=0.23, PA=0°"}, {"f": 2.92, "v": 0.187, "s": "Ridgway & Keady (1988), ph=0.23, PA=0°"}, {"f": 3.02, "v": 0.194, "s": "Ridgway & Keady (1988), ph=0.23, PA=0°"}, {"f": 3.12, "v": 0.194, "s": "Ridgway & Keady (1988), ph=0.23, PA=0°"}, {"f": 3.22, "v": 0.187, "s": "Ridgway & Keady (1988), ph=0.23, PA=0°"}, {"f": 3.32, "v": 0.182, "s": "Ridgway & Keady (1988), ph=0.23, PA=0°"}, {"f": 3.42, "v": 0.179, "s": "Ridgway & Keady (1988), ph=0.23, PA=0°"}, {"f": 3.52, "v": 0.172, "s": "Ridgway & Keady (1988), ph=0.23, PA=0°"}, {"f": 3.62, "v": 0.168, "s": "Ridgway & Keady (1988), ph=0.23, PA=0°"}, {"f": 3.72, "v": 0.158, "s": "Ridgway & Keady (1988), ph=0.23, PA=0°"}, {"f": 3.82, "v": 0.148, "s": "Ridgway & Keady (1988), ph=0.23, PA=0°"}, {"f": 3.92, "v": 0.139, "s": "Ridgway & Keady (1988), ph=0.23, PA=0°"}, {"f": 4.02, "v": 0.133, "s": "Ridgway & Keady (1988), ph=0.23, PA=0°"}, {"f": 4.12, "v": 0.125, "s": "Ridgway & Keady (1988), ph=0.23, PA=0°"}, {"f": 4.22, "v": 0.122, "s": "Ridgway & Keady (1988), ph=0.23, PA=0°"}, {"f": 4.32, "v": 0.122, "s": "Ridgway & Keady (1988), ph=0.23, PA=0°"}, {"f": 4.42, "v": 0.122, "s": "Ridgway & Keady (1988), ph=0.23, PA=0°"}, {"f": 4.52, "v": 0.122, "s": "Ridgway & Keady (1988), ph=0.23, PA=0°"}, {"f": 4.6, "v": 0.11, "s": "Ridgway & Keady (1988), ph=0.23, PA=0°"}, {"f": 4.68, "v": 0.095, "s": "Ridgway & Keady (1988), ph=0.23, PA=0°"}, {"f": 4.76, "v": 0.082, "s": "Ridgway & Keady (1988), ph=0.23, PA=0°"}, {"f": 4.84, "v": 0.067, "s": "Ridgway & Keady (1988), ph=0.23, PA=0°"}, {"f": 4.92, "v": 0.096, "s": "Ridgway & Keady (1988), ph=0.23, PA=0°"}
    ]
  },
  "spacing": 5,
  "resolve": {"scale": {"stroke": "independent", "fill": "independent", "shape": "independent"}, "legend": {"stroke": "independent", "fill": "independent", "shape": "independent"}},
  "vconcat": [
    {
      "width": 522, "height": 248,
      "resolve": {"axis": {"x": "independent", "y": "independent"}},
      "layer": [
        {
          "data": {"name": "jModel"},
          "mark": {"type": "line", "strokeWidth": 1.6},
          "encoding": {
            "x": {"field": "f", "type": "quantitative", "scale": {"domain": [0, 12.5], "nice": false, "zero": false}, "axis": {"orient": "bottom", "values": [0, 2, 4, 6, 8, 10, 12], "tickSize": -11, "labels": false, "title": null}},
            "y": {"field": "v", "type": "quantitative", "scale": {"domain": [0, 1.1], "nice": false}, "axis": {"orient": "left", "values": [0, 0.2, 0.4, 0.6, 0.8, 1.0], "format": ".1f", "tickSize": -11, "labelPadding": 13, "title": "Normalized visibility", "titlePadding": 10}},
            "stroke": {"field": "s", "type": "nominal", "scale": {"domain": ["Model, ph=0.15, PA=20°", "Model, ph=0.15, PA=110°", "Osterbart et al. (2000), ph=0.15, PA=20°", "Osterbart et al. (2000), ph=0.15, PA=110°"], "range": ["#d42b2b", "#d43cd4", "#1515c8", "#2f96e6"]}, "legend": {"legendX": 227, "legendY": 20}},
            "detail": {"field": "s"}
          }
        },
        {
          "data": {"name": "jObs"},
          "mark": {"type": "point", "filled": true, "strokeWidth": 0.5, "opacity": 1, "size": 38},
          "encoding": {
            "x": {"field": "f", "type": "quantitative", "axis": {"orient": "top", "values": [0, 2, 4, 6, 8, 10, 12], "tickSize": -11, "labelPadding": 20, "title": null}},
            "y": {"field": "v", "type": "quantitative", "axis": {"orient": "right", "values": [0, 0.2, 0.4, 0.6, 0.8, 1.0], "format": ".1f", "tickSize": -11, "labelPadding": 19, "title": null}},
            "stroke": {"field": "s", "type": "nominal", "scale": {"domain": ["Model, ph=0.15, PA=20°", "Model, ph=0.15, PA=110°", "Osterbart et al. (2000), ph=0.15, PA=20°", "Osterbart et al. (2000), ph=0.15, PA=110°"], "range": ["#d42b2b", "#d43cd4", "#1515c8", "#2f96e6"]}},
            "fill": {"field": "s", "type": "nominal", "scale": {"domain": ["Model, ph=0.15, PA=20°", "Model, ph=0.15, PA=110°", "Osterbart et al. (2000), ph=0.15, PA=20°", "Osterbart et al. (2000), ph=0.15, PA=110°"], "range": ["#d42b2b", "#d43cd4", "#1515c8", "#2f96e6"]}},
            "shape": {"field": "s", "type": "nominal", "scale": {"domain": ["Model, ph=0.15, PA=20°", "Model, ph=0.15, PA=110°", "Osterbart et al. (2000), ph=0.15, PA=20°", "Osterbart et al. (2000), ph=0.15, PA=110°"], "range": ["M-6,0H6", "M-6,0H6", "circle", "diamond"]}}
          }
        },
        {
          "data": {"values": [{"label": "J"}]},
          "mark": {"type": "text", "color": "#ff0000", "fontSize": 78, "align": "center", "baseline": "middle"},
          "encoding": {
            "x": {"datum": 6.1, "type": "quantitative", "axis": {"orient": "bottom", "values": [0.2,0.4,0.6,0.8,1,1.2,1.4,1.6,1.8,2,2.2,2.4,2.6,2.8,3,3.2,3.4,3.6,3.8,4,4.2,4.4,4.6,4.8,5,5.2,5.4,5.6,5.8,6,6.2,6.4,6.6,6.8,7,7.2,7.4,7.6,7.8,8,8.2,8.4,8.6,8.8,9,9.2,9.4,9.6,9.8,10,10.2,10.4,10.6,10.8,11,11.2,11.4,11.6,11.8,12,12.2,12.4], "tickSize": -6, "labels": false, "title": null}},
            "y": {"datum": 0.43, "type": "quantitative", "axis": {"orient": "left", "values": [0.04,0.08,0.12,0.16,0.2,0.24,0.28,0.32,0.36,0.4,0.44,0.48,0.52,0.56,0.6,0.64,0.68,0.72,0.76,0.8,0.84,0.88,0.92,0.96,1,1.04,1.08], "tickSize": -6, "labels": false, "title": null}},
            "text": {"field": "label"}
          }
        },
        {
          "data": {"values": [{"label": "1.25 µm (J)"}]},
          "mark": {"type": "text", "color": "#333", "fontSize": 17, "align": "right", "baseline": "middle"},
          "encoding": {
            "x": {"datum": 12.0, "type": "quantitative", "axis": {"orient": "top", "values": [0.2,0.4,0.6,0.8,1,1.2,1.4,1.6,1.8,2,2.2,2.4,2.6,2.8,3,3.2,3.4,3.6,3.8,4,4.2,4.4,4.6,4.8,5,5.2,5.4,5.6,5.8,6,6.2,6.4,6.6,6.8,7,7.2,7.4,7.6,7.8,8,8.2,8.4,8.6,8.8,9,9.2,9.4,9.6,9.8,10,10.2,10.4,10.6,10.8,11,11.2,11.4,11.6,11.8,12,12.2,12.4], "tickSize": -6, "labels": false, "title": null}},
            "y": {"datum": 0.955, "type": "quantitative", "axis": {"orient": "right", "values": [0.04,0.08,0.12,0.16,0.2,0.24,0.28,0.32,0.36,0.4,0.44,0.48,0.52,0.56,0.6,0.64,0.68,0.72,0.76,0.8,0.84,0.88,0.92,0.96,1,1.04,1.08], "tickSize": -6, "labels": false, "title": null}},
            "text": {"field": "label"}
          }
        }
      ]
    },
    {
      "width": 522, "height": 255,
      "resolve": {"axis": {"x": "independent", "y": "independent"}},
      "layer": [
        {
          "data": {"name": "hModel"},
          "mark": {"type": "line", "strokeWidth": 1.6},
          "encoding": {
            "x": {"field": "f", "type": "quantitative", "scale": {"domain": [0, 12.5], "nice": false, "zero": false}, "axis": {"orient": "bottom", "values": [0, 2, 4, 6, 8, 10, 12], "tickSize": -11, "labelPadding": 16, "title": "Spatial frequency\u00a0 f (arcsec⁻¹)", "titlePadding": 18}},
            "y": {"field": "v", "type": "quantitative", "scale": {"domain": [0, 1.1], "nice": false}, "axis": {"orient": "left", "values": [0, 0.2, 0.4, 0.6, 0.8, 1.0], "format": ".1f", "tickSize": -11, "labelPadding": 13, "title": "Normalized visibility", "titlePadding": 10}},
            "stroke": {"field": "s", "type": "nominal", "scale": {"domain": ["Model, ph=0.61, PA=20°", "Model, ph=0.61, PA=110°", "Osterbart et al. (2000), ph=0.61, PA=20°", "Osterbart et al. (2000), ph=0.61, PA=110°", "Ridgway & Keady (1988), ph=0.23, PA=0°", "Ridgway & Keady (1988), ph=0.23, PA=90°"], "range": ["#d42b2b", "#d43cd4", "#1515c8", "#2f96e6", "#3b35b0", "#3a8fd8"]}, "legend": {"legendX": 227, "legendY": 23}},
            "detail": {"field": "s"}
          }
        },
        {
          "data": {"name": "hObs"},
          "mark": {"type": "point", "filled": true, "strokeWidth": 1.2, "opacity": 1, "size": 38},
          "encoding": {
            "x": {"field": "f", "type": "quantitative", "axis": {"orient": "top", "values": [0, 2, 4, 6, 8, 10, 12], "tickSize": -11, "labels": false, "title": null}},
            "y": {"field": "v", "type": "quantitative", "axis": {"orient": "right", "values": [0, 0.2, 0.4, 0.6, 0.8, 1.0], "format": ".1f", "tickSize": -11, "labelPadding": 19, "title": null}},
            "stroke": {"field": "s", "type": "nominal", "scale": {"domain": ["Model, ph=0.61, PA=20°", "Model, ph=0.61, PA=110°", "Osterbart et al. (2000), ph=0.61, PA=20°", "Osterbart et al. (2000), ph=0.61, PA=110°", "Ridgway & Keady (1988), ph=0.23, PA=0°", "Ridgway & Keady (1988), ph=0.23, PA=90°"], "range": ["#d42b2b", "#d43cd4", "#1515c8", "#2f96e6", "#3b35b0", "#3a8fd8"]}},
            "fill": {"field": "s", "type": "nominal", "scale": {"domain": ["Model, ph=0.61, PA=20°", "Model, ph=0.61, PA=110°", "Osterbart et al. (2000), ph=0.61, PA=20°", "Osterbart et al. (2000), ph=0.61, PA=110°", "Ridgway & Keady (1988), ph=0.23, PA=0°", "Ridgway & Keady (1988), ph=0.23, PA=90°"], "range": ["#d42b2b", "#d43cd4", "#1515c8", "#2f96e6", "#3b35b0", "#3a8fd8"]}},
            "shape": {"field": "s", "type": "nominal", "scale": {"domain": ["Model, ph=0.61, PA=20°", "Model, ph=0.61, PA=110°", "Osterbart et al. (2000), ph=0.61, PA=20°", "Osterbart et al. (2000), ph=0.61, PA=110°", "Ridgway & Keady (1988), ph=0.23, PA=0°", "Ridgway & Keady (1988), ph=0.23, PA=90°"], "range": ["M-6,0H6", "M-6,0H6", "circle", "diamond", "M-1.2,0H1.2M0,-1.2V1.2", "M-1,-1L1,1M-1,1L1,-1"]}}
          }
        },
        {
          "data": {"values": [{"label": "H"}]},
          "mark": {"type": "text", "color": "#ff0000", "fontSize": 72, "align": "center", "baseline": "middle"},
          "encoding": {
            "x": {"datum": 7.39, "type": "quantitative", "axis": {"orient": "bottom", "values": [0.2,0.4,0.6,0.8,1,1.2,1.4,1.6,1.8,2,2.2,2.4,2.6,2.8,3,3.2,3.4,3.6,3.8,4,4.2,4.4,4.6,4.8,5,5.2,5.4,5.6,5.8,6,6.2,6.4,6.6,6.8,7,7.2,7.4,7.6,7.8,8,8.2,8.4,8.6,8.8,9,9.2,9.4,9.6,9.8,10,10.2,10.4,10.6,10.8,11,11.2,11.4,11.6,11.8,12,12.2,12.4], "tickSize": -6, "labels": false, "title": null}},
            "y": {"datum": 0.31, "type": "quantitative", "axis": {"orient": "left", "values": [0.04,0.08,0.12,0.16,0.2,0.24,0.28,0.32,0.36,0.4,0.44,0.48,0.52,0.56,0.6,0.64,0.68,0.72,0.76,0.8,0.84,0.88,0.92,0.96,1,1.04,1.08], "tickSize": -6, "labels": false, "title": null}},
            "text": {"field": "label"}
          }
        },
        {
          "data": {"values": [{"label": "1.65 µm (H)"}]},
          "mark": {"type": "text", "color": "#333", "fontSize": 17, "align": "right", "baseline": "middle"},
          "encoding": {
            "x": {"datum": 12.05, "type": "quantitative", "axis": {"orient": "top", "values": [0.2,0.4,0.6,0.8,1,1.2,1.4,1.6,1.8,2,2.2,2.4,2.6,2.8,3,3.2,3.4,3.6,3.8,4,4.2,4.4,4.6,4.8,5,5.2,5.4,5.6,5.8,6,6.2,6.4,6.6,6.8,7,7.2,7.4,7.6,7.8,8,8.2,8.4,8.6,8.8,9,9.2,9.4,9.6,9.8,10,10.2,10.4,10.6,10.8,11,11.2,11.4,11.6,11.8,12,12.2,12.4], "tickSize": -6, "labels": false, "title": null}},
            "y": {"datum": 0.96, "type": "quantitative", "axis": {"orient": "right", "values": [0.04,0.08,0.12,0.16,0.2,0.24,0.28,0.32,0.36,0.4,0.44,0.48,0.52,0.56,0.6,0.64,0.68,0.72,0.76,0.8,0.84,0.88,0.92,0.96,1,1.04,1.08], "tickSize": -6, "labels": false, "title": null}},
            "text": {"field": "label"}
          }
        }
      ]
    }
  ]
}
